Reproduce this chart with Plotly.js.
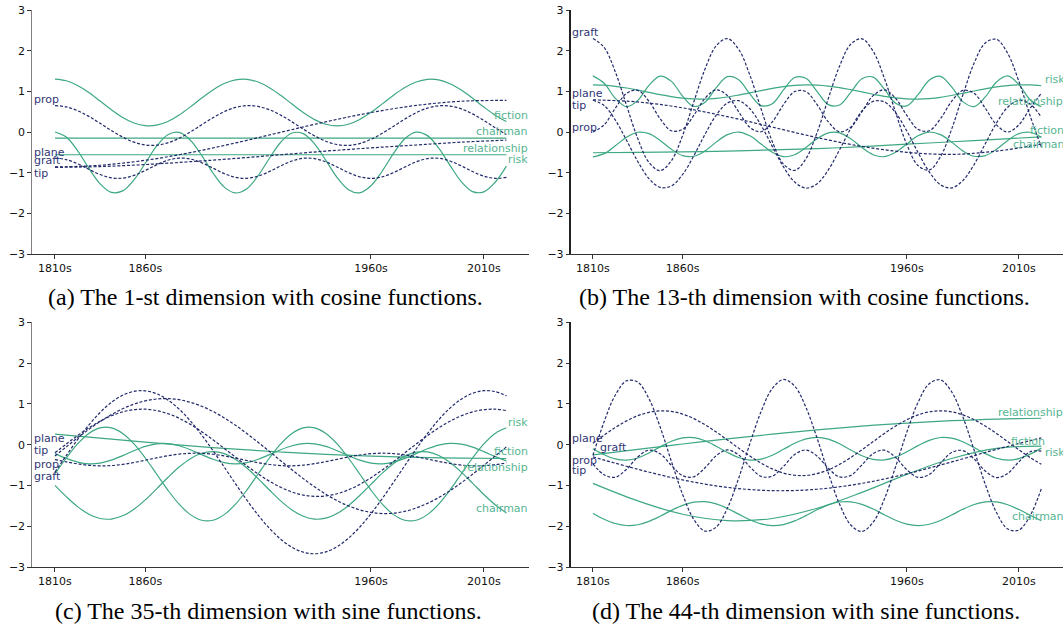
<!DOCTYPE html>
<html>
<head>
<meta charset="utf-8">
<script src="https://cdn.plot.ly/plotly-3.0.1.min.js"></script>
<style>html,body{margin:0;padding:0;background:#fff;}#chart{width:1063px;height:626px;}</style>
</head>
<body>
<div id="chart"></div>
<script>
// ---------- data ----------
const xF = [0,0.5,1,1.5,2,2.5,3,3.5,4,4.5,5,5.5,6,6.5,7,7.5,8,8.5,9,9.5,10,10.5,11,11.5,12,12.5,13,13.5,14,14.5,15,15.5,16,16.5,17,17.5,18,18.5,19,19.5,20];
const xC = [0,2,4,6,8,10,12,14,16,18,20];
const tickVals = [0,4,14,19];
const tickText = ['1810s','1860s','1960s','2010s'];
const yTickVals = [-3,-2,-1,0,1,2,3];

// (a) 1-st dimension, cosine
const aFiction = [1.300,1.260,1.144,0.970,0.761,0.547,0.358,0.221,0.155,0.168,0.260,0.418,0.618,0.834,1.034,1.191,1.282,1.295,1.228,1.090,0.901,0.687,0.478,0.305,0.190,0.150,0.191,0.308,0.483,0.692,0.906,1.094,1.230,1.296,1.281,1.188,1.030,0.829,0.613,0.413,0.257];
const aRisk = [0.000,-0.125,-0.459,-0.889,-1.274,-1.483,-1.448,-1.179,-0.768,-0.350,-0.066,-0.010,-0.202,-0.575,-1.008,-1.355,-1.499,-1.394,-1.074,-0.646,-0.252,-0.025,-0.040,-0.291,-0.696,-1.119,-1.419,-1.495,-1.323,-0.959,-0.526,-0.167,-0.003,-0.089,-0.394,-0.819,-1.221,-1.465,-1.471,-1.236,-0.839];
const aChairman = [-0.15,-0.15,-0.15,-0.15,-0.15,-0.15,-0.15,-0.15,-0.15,-0.15,-0.15];
const aRelationship = [-0.56,-0.56,-0.56,-0.56,-0.56,-0.56,-0.56,-0.56,-0.56,-0.56,-0.56];
const aProp = [0.650,0.618,0.525,0.384,0.213,0.036,-0.125,-0.249,-0.318,-0.325,-0.267,-0.154,0.002,0.178,0.352,0.501,0.604,0.649,0.629,0.548,0.415,0.249,0.071,-0.095,-0.228,-0.309,-0.329,-0.284,-0.181,-0.032,0.142,0.318,0.474,0.587,0.645,0.638,0.569,0.445,0.284,0.106,-0.064];
const aPlane = [-0.640,-0.678,-0.782,-0.918,-1.046,-1.126,-1.134,-1.067,-0.946,-0.808,-0.695,-0.642,-0.665,-0.757,-0.890,-1.023,-1.115,-1.138,-1.085,-0.973,-0.834,-0.713,-0.646,-0.654,-0.734,-0.862,-0.998,-1.102,-1.140,-1.102,-0.998,-0.862,-0.734,-0.654,-0.646,-0.713,-0.834,-0.973,-1.085,-1.138,-1.115];
const aGraft = [-0.860,-0.818,-0.696,-0.506,-0.269,-0.007,0.251,0.478,0.653,0.756,0.777];
const aTip = [-0.87,-0.85,-0.80,-0.73,-0.65,-0.56,-0.47,-0.39,-0.32,-0.25,-0.20];

// (b) 13-th dimension, cosine
const bRelationship = [1.380,1.198,0.827,0.621,0.777,1.147,1.375,1.245,0.881,0.630,0.733,1.091,1.362,1.287,0.937,0.648,0.695,1.034,1.340,1.321,0.995,0.673,0.664,0.975,1.311,1.349,1.053,0.707,0.641,0.918,1.274,1.368,1.110,0.747,0.626,0.862,1.230,1.378,1.164,0.793,0.620];
const bFiction = [-0.610,-0.532,-0.338,-0.128,-0.007,-0.039,-0.207,-0.424,-0.581,-0.597,-0.464,-0.249,-0.064,-0.001,-0.093,-0.294,-0.500,-0.607,-0.559,-0.382,-0.166,-0.020,-0.020,-0.166,-0.382,-0.559,-0.607,-0.500,-0.294,-0.093,-0.001,-0.064,-0.249,-0.464,-0.597,-0.581,-0.424,-0.207,-0.039,-0.007,-0.128];
const bRisk = [1.160,1.151,1.124,1.082,1.030,0.974,0.918,0.870,0.833,0.813,0.811,0.828,0.861,0.908,0.962,1.019,1.073,1.117,1.147,1.160,1.154,1.130,1.092,1.041,0.985,0.929,0.878,0.840,0.816,0.810,0.823,0.853,0.898,0.951,1.008,1.062,1.109,1.142,1.158,1.157,1.137];
const bChairman = [-0.51,-0.50,-0.49,-0.47,-0.44,-0.41,-0.36,-0.30,-0.24,-0.18,-0.12];
const bGraft = [2.300,2.079,1.475,0.654,-0.162,-0.750,-0.950,-0.706,-0.087,0.740,1.548,2.120,2.298,2.034,1.400,0.568,-0.234,-0.789,-0.945,-0.659,-0.012,0.825,1.619,2.157,2.292,1.985,1.320,0.483,-0.305,-0.825,-0.936,-0.609,0.069,0.909,1.689,2.190,2.279,1.933,1.242,0.399,-0.372];
const bTip = [0.780,0.651,0.295,-0.204,-0.725,-1.146,-1.363,-1.326,-1.045,-0.585,-0.057,0.413,0.712,0.770,0.572,0.165,-0.353,-0.858,-1.230,-1.379,-1.271,-0.931,-0.439,0.085,0.518,0.754,0.739,0.474,0.025,-0.502,-0.981,-1.297,-1.375,-1.195,-0.802,-0.289,0.222,0.608,0.777,0.688,0.363];
const bProp = [0.000,0.176,0.586,0.951,1.023,0.755,0.326,0.030,0.066,0.410,0.829,1.038,0.895,0.498,0.115,0.007,0.248,0.672,0.994,0.994,0.672,0.248,0.007,0.115,0.498,0.895,1.038,0.829,0.410,0.066,0.030,0.326,0.755,1.023,0.951,0.586,0.176,0.000,0.176,0.586,0.951];
const bPlane = [0.790,0.739,0.594,0.377,0.120,-0.137,-0.354,-0.499,-0.550,-0.47,-0.30];

// (c) 35-th dimension, sine
const cChairman = [-1.000,-1.275,-1.519,-1.705,-1.810,-1.824,-1.745,-1.582,-1.354,-1.084,-0.806,-0.549,-0.343,-0.212,-0.170,-0.221,-0.362,-0.573,-0.833,-1.111,-1.378,-1.602,-1.757,-1.827,-1.803,-1.689,-1.497,-1.248,-0.973,-0.699,-0.460,-0.281,-0.184,-0.179,-0.268,-0.439,-0.673,-0.944,-1.222,-1.474,-1.673];
const cRisk = [-0.720,-0.327,0.019,0.276,0.413,0.413,0.276,0.019,-0.327,-0.720,-1.113,-1.459,-1.716,-1.853,-1.853,-1.716,-1.459,-1.113,-0.720,-0.327,0.019,0.276,0.413,0.413,0.276,0.019,-0.327,-0.720,-1.113,-1.459,-1.716,-1.853,-1.853,-1.716,-1.459,-1.113,-0.720,-0.327,0.019,0.276,0.413];
const cRelationship = [-0.220,-0.338,-0.428,-0.469,-0.451,-0.379,-0.269,-0.148,-0.043,0.019,0.025,-0.027,-0.124,-0.245,-0.359,-0.441,-0.470,-0.441,-0.359,-0.245,-0.124,-0.027,0.025,0.019,-0.043,-0.148,-0.269,-0.379,-0.451,-0.469,-0.428,-0.338,-0.220,-0.102,-0.012,0.029,0.011,-0.062,-0.171,-0.293,-0.397];
const cFiction = [0.26,0.16,0.06,-0.03,-0.11,-0.18,-0.24,-0.28,-0.31,-0.33,-0.34];
const cGraft = [-0.675,-0.267,0.123,0.481,0.789,1.037,1.211,1.307,1.319,1.249,1.097,0.871,0.579,0.235,-0.147,-0.551,-0.961,-1.359,-1.729,-2.051,-2.319,-2.517,-2.637,-2.675,-2.629,-2.501,-2.295,-2.023,-1.693,-1.321,-0.921,-0.511,-0.107,0.271,0.611,0.897,1.115,1.259,1.323,1.301,1.197];
const cProp = [-0.365,-0.422,-0.471,-0.506,-0.520,-0.512,-0.484,-0.438,-0.383,-0.324,-0.272,-0.233,-0.212,-0.213,-0.236,-0.277,-0.330,-0.388,-0.443,-0.487,-0.514,-0.519,-0.503,-0.467,-0.417,-0.359,-0.302,-0.254,-0.222,-0.210,-0.220,-0.250,-0.297,-0.353,-0.411,-0.462,-0.500,-0.519,-0.515,-0.491,-0.448];
const cTip = [-0.280,-0.054,0.167,0.375,0.567,0.737,0.880,0.994,1.075,1.120,1.129,1.102,1.038,0.941,0.813,0.655,0.473,0.273,0.057,-0.166,-0.394,-0.617,-0.833,-1.033,-1.215,-1.373,-1.501,-1.598,-1.662,-1.689,-1.680,-1.635,-1.554,-1.440,-1.297,-1.127,-0.935,-0.727,-0.506,-0.280,-0.054];
const cPlane = [-0.200,0.015,0.222,0.411,0.576,0.708,0.804,0.857,0.869,0.836,0.761,0.646,0.497,0.319,0.120,-0.092,-0.308,-0.520,-0.719,-0.897,-1.046,-1.161,-1.236,-1.269,-1.257,-1.204,-1.108,-0.976,-0.811,-0.622,-0.415,-0.200,0.015,0.222,0.411,0.576,0.708,0.804,0.857,0.869,0.836];

// (d) 44-th dimension, sine
const dRelationship = [-0.250,-0.116,0.016,0.141,0.257,0.364,0.454,0.529,0.587,0.628,0.647];
const dFiction = [-0.100,-0.247,-0.350,-0.379,-0.326,-0.205,-0.054,0.084,0.167,0.171,0.095,-0.039,-0.191,-0.316,-0.377,-0.356,-0.260,-0.115,0.033,0.142,0.180,0.134,0.020,-0.131,-0.272,-0.362,-0.375,-0.306,-0.176,-0.024,0.106,0.175,0.162,0.072,-0.069,-0.220,-0.334,-0.380,-0.342,-0.233,-0.085];
const dRisk = [-0.950,-1.378,-1.707,-1.863,-1.810,-1.560,-1.170,-0.730,-0.340,-0.090,-0.036];
const dChairman = [-1.690,-1.828,-1.934,-1.983,-1.964,-1.881,-1.754,-1.612,-1.488,-1.411,-1.399,-1.454,-1.565,-1.704,-1.841,-1.942,-1.984,-1.959,-1.870,-1.740,-1.598,-1.478,-1.407,-1.401,-1.463,-1.578,-1.719,-1.853,-1.949,-1.985,-1.952,-1.859,-1.726,-1.585,-1.468,-1.403,-1.405,-1.473,-1.591,-1.733,-1.865];
const dPlane = [0.035,0.234,0.421,0.583,0.710,0.793,0.829,0.814,0.749,0.638,0.489,0.311,0.115,-0.085,-0.278,-0.452,-0.594,-0.696,-0.750,-0.756,-0.711,-0.618,-0.483,-0.315,-0.125,0.075,0.273,0.456,0.611,0.730,0.805,0.830,0.805,0.730,0.611,0.456,0.273,0.075,-0.125,-0.315,-0.483];
const dGraft = [-0.265,0.563,1.218,1.566,1.533,1.126,0.431,-0.410,-1.220,-1.832,-2.119,-2.020,-1.556,-0.824,0.024,0.811,1.376,1.598,1.434,0.917,0.155,-0.696,-1.457,-1.970,-2.128,-1.901,-1.332,-0.543,0.306,1.035,1.494,1.587,1.296,0.681,-0.131,-0.972,-1.664,-2.067,-2.094,-1.742,-1.082];
const dTip = [-0.470,-0.739,-0.799,-0.603,-0.304,-0.134,-0.225,-0.507,-0.760,-0.788,-0.568,-0.272,-0.130,-0.252,-0.544,-0.778,-0.772,-0.532,-0.243,-0.131,-0.282,-0.580,-0.792,-0.754,-0.495,-0.217,-0.136,-0.315,-0.614,-0.802,-0.731,-0.458,-0.193,-0.144,-0.349,-0.647,-0.808,-0.706,-0.420,-0.173,-0.157];
const dProp = [-0.300,-0.603,-0.865,-1.048,-1.128,-1.093,-0.949,-0.715,-0.424,-0.115,0.167];

const captions = [
  '(a) The 1-st dimension with cosine functions.',
  '(b) The 13-th dimension with cosine functions.',
  '(c) The 35-th dimension with sine functions.',
  '(d) The 44-th dimension with sine functions.'
];

// ---------- styling / layout ----------
const W = 1063, H = 626;
const GREEN = '#3da882', NAVY = '#222a6a';
const GREEN_T = '#56b592', NAVY_T = '#2f3676';
const fx = p => p / W;           // canvas px -> paper x
const fy = p => 1 - p / H;       // canvas px -> paper y

const panels = [
  {ax: '', greens: [[xF, aFiction], [xF, aRisk], [xC, aChairman], [xC, aRelationship]],
   navys: [[xF, aProp], [xF, aPlane], [xC, aGraft], [xC, aTip]]},
  {ax: '2', greens: [[xF, bRelationship], [xF, bFiction], [xF, bRisk], [xC, bChairman]],
   navys: [[xF, bGraft], [xF, bTip], [xF, bProp], [xC, bPlane]]},
  {ax: '3', greens: [[xF, cChairman], [xF, cRisk], [xF, cRelationship], [xC, cFiction]],
   navys: [[xF, cGraft], [xF, cProp], [xF, cTip], [xF, cPlane]]},
  {ax: '4', greens: [[xC, dRelationship], [xF, dFiction], [xC, dRisk], [xF, dChairman]],
   navys: [[xF, dPlane], [xF, dGraft], [xF, dTip], [xC, dProp]]}
];

const traces = [];
panels.forEach(p => {
  p.greens.forEach(([x, y]) => traces.push({
    x: x, y: y, type: 'scatter', mode: 'lines', xaxis: 'x' + p.ax, yaxis: 'y' + p.ax,
    line: {color: GREEN, width: 1.2, shape: 'spline', smoothing: 1}, hoverinfo: 'skip', showlegend: false
  }));
  p.navys.forEach(([x, y]) => traces.push({
    x: x, y: y, type: 'scatter', mode: 'lines', xaxis: 'x' + p.ax, yaxis: 'y' + p.ax,
    line: {color: NAVY, width: 1.2, dash: '3px,1.8px', shape: 'spline', smoothing: 1}, hoverinfo: 'skip', showlegend: false
  }));
});

const tickFont = {family: 'DejaVu Sans, sans-serif', size: 11, color: '#111'};
function xAxis(d0, d1, r1, anchor) {
  return {domain: [fx(d0), Math.min(1, fx(d1))], range: [-1, r1], anchor: anchor,
    showline: true, linecolor: '#333', linewidth: 1.2, ticks: 'outside', ticklen: 3.5, tickwidth: 1, tickcolor: '#333',
    tickmode: 'array', tickvals: tickVals, ticktext: tickText, showgrid: false, zeroline: false, tickfont: tickFont, fixedrange: true};
}
function yAxis(t, b, anchor, lc, lw) {
  return {domain: [fy(b), fy(t)], range: [-3, 3], anchor: anchor,
    showline: true, linecolor: lc, linewidth: lw, ticks: 'outside', ticklen: 3.5, tickwidth: 1, tickcolor: '#333',
    tickmode: 'array', tickvals: yTickVals, showgrid: false, zeroline: false, tickfont: tickFont, fixedrange: true};
}

const ann = [];
function lab(text, x, y, color, anchor) {
  ann.push({text: text, xref: 'paper', yref: 'paper', x: fx(x), y: fy(y), xanchor: anchor, yanchor: 'middle',
    showarrow: false, font: {family: 'DejaVu Sans, sans-serif', size: 11, color: color}, borderpad: 0});
}
// (a)
lab('prop', 32.5, 99.3, NAVY_T, 'left'); lab('plane', 32.5, 152.7, NAVY_T, 'left');
lab('graft', 32.5, 160.5, NAVY_T, 'left'); lab('tip', 32.5, 173.3, NAVY_T, 'left');
lab('fiction', 529, 115, GREEN_T, 'right'); lab('chairman', 529, 131.7, GREEN_T, 'right');
lab('relationship', 529, 148.3, GREEN_T, 'right'); lab('risk', 529, 159.3, GREEN_T, 'right');
// (b)
lab('graft', 571, 32.7, NAVY_T, 'left'); lab('plane', 571, 93.3, NAVY_T, 'left');
lab('tip', 571, 106, NAVY_T, 'left'); lab('prop', 571, 127.3, NAVY_T, 'left');
lab('risk', 1044, 79.3, GREEN_T, 'left'); lab('relationship', 997.3, 101, GREEN_T, 'left');
lab('fiction', 1029.3, 130.7, GREEN_T, 'left'); lab('chairman', 1011.7, 144.3, GREEN_T, 'left');
// (c)
lab('plane', 32.5, 438.3, NAVY_T, 'left'); lab('tip', 32.5, 450, NAVY_T, 'left');
lab('prop', 32.5, 464, NAVY_T, 'left'); lab('graft', 32.5, 476.7, NAVY_T, 'left');
lab('risk', 529, 422.3, GREEN_T, 'right'); lab('fiction', 529, 451.7, GREEN_T, 'right');
lab('relationship', 529, 467.3, GREEN_T, 'right'); lab('chairman', 529, 508.3, GREEN_T, 'right');
// (d)
lab('plane', 571, 439, NAVY_T, 'left'); lab('graft', 599.3, 447.7, NAVY_T, 'left');
lab('prop', 571, 460, NAVY_T, 'left'); lab('tip', 571, 470, NAVY_T, 'left');
lab('relationship', 997.3, 412.3, GREEN_T, 'left'); lab('fiction', 1010, 441, GREEN_T, 'left');
lab('risk', 1044.3, 452.7, GREEN_T, 'left'); lab('chairman', 1010.7, 516, GREEN_T, 'left');

const capPos = [[265.5, 297], [804, 297], [268, 611], [805.5, 611]];
captions.forEach((c, i) => ann.push({text: c, xref: 'paper', yref: 'paper', x: fx(capPos[i][0]), y: fy(capPos[i][1]),
  xanchor: 'center', yanchor: 'middle', showarrow: false, font: {family: 'Liberation Serif, Times New Roman, serif', size: 24, color: '#000'}}));

const rB = -1 + (W - 570.5) / 22.42;
const layout = {
  width: W, height: H, margin: {l: 0, r: 0, t: 0, b: 0}, paper_bgcolor: '#fff', plot_bgcolor: 'rgba(0,0,0,0)',
  showlegend: false,
  xaxis: xAxis(32.4, 529, 21, 'y'),
  yaxis: yAxis(10, 254, 'x', '#808080', 1.6),
  xaxis2: xAxis(570.5, 1063, rB, 'y2'),
  yaxis2: yAxis(10, 254, 'x2', '#222', 1.2),
  xaxis3: xAxis(32.4, 529, 21, 'y3'),
  yaxis3: yAxis(322.3, 567, 'x3', '#808080', 1.6),
  xaxis4: xAxis(570.5, 1063, rB, 'y4'),
  yaxis4: yAxis(322.3, 567, 'x4', '#222', 1.2),
  annotations: ann
};
Plotly.newPlot('chart', traces, layout, {staticPlot: true, displayModeBar: false});
</script>
</body>
</html>
